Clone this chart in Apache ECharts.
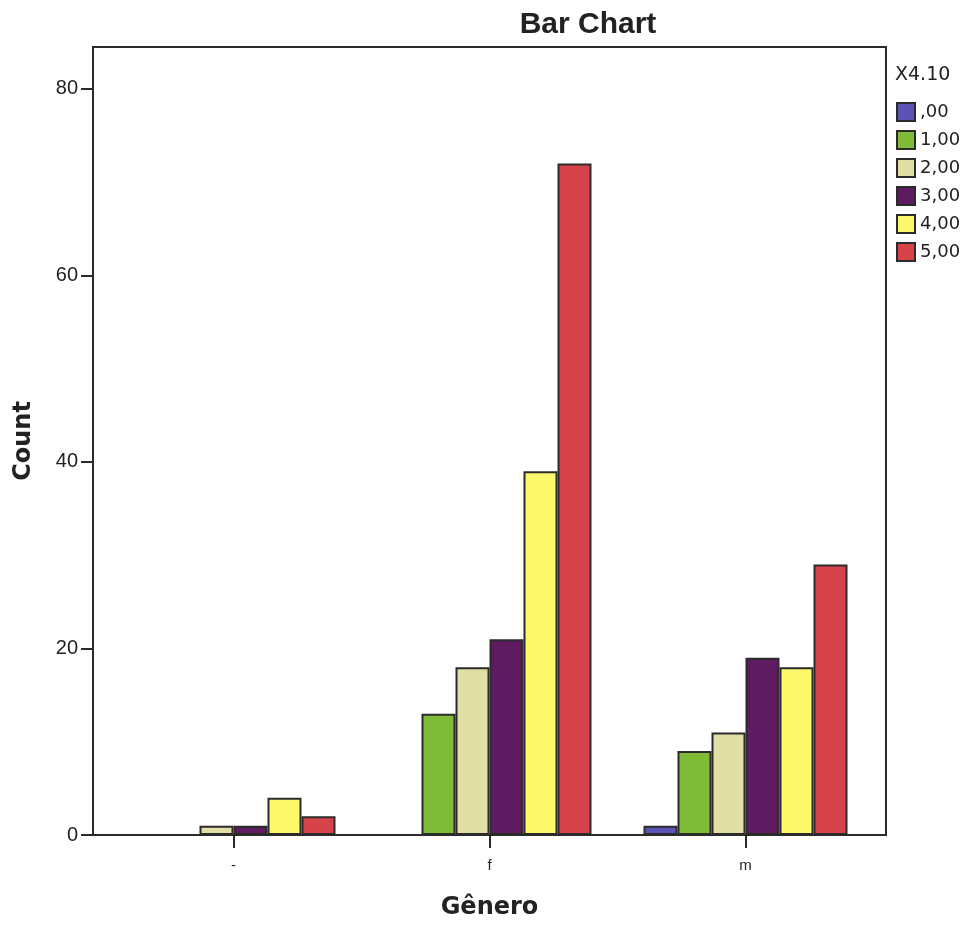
<!DOCTYPE html>
<html>
<head>
<meta charset="utf-8">
<script src="https://cdn.jsdelivr.net/npm/echarts@6/dist/echarts.min.js"></script>
<style>
  html, body { margin: 0; padding: 0; background: #fff; }
  #chart { width: 965px; height: 927px; }
</style>
</head>
<body>
<div id="chart"></div>
<script>
// Gênero categories and counts for each X4.10 response level
const categories = ['-', 'f', 'm'];
const seriesNames = [',00', '1,00', '2,00', '3,00', '4,00', '5,00'];
const values00 = [0, 0, 1];
const values10 = [0, 13, 9];
const values20 = [1, 18, 11];
const values30 = [1, 21, 19];
const values40 = [4, 39, 18];
const values50 = [2, 72, 29];
const yTicks = [0, 20, 40, 60, 80];

const seriesValues = [values00, values10, values20, values30, values40, values50];
const colors = ['#5a55b5', '#80bb38', '#e2dfa6', '#5e1b60', '#fbf86c', '#d7434a'];

const FONT = 'Liberation Sans, Arial, sans-serif';
const WIDE = 'DejaVu Sans, Verdana, sans-serif';
const INK = '#222';
const LINE = '#2b2b2b';
const Y_MAX = 84.5;

const chart = echarts.init(document.getElementById('chart'));

chart.setOption({
  animation: false,
  textStyle: { fontFamily: FONT },
  title: {
    text: 'Bar Chart',
    left: 583,
    top: 5,
    textAlign: 'center',
    textStyle: { fontFamily: FONT, fontSize: 30, fontWeight: 'bold', color: INK }
  },
  legend: {
    orient: 'vertical',
    left: 896,
    top: 102,
    padding: 0,
    itemWidth: 18,
    itemHeight: 18,
    itemGap: 8,
    icon: 'rect',
    data: seriesNames,
    textStyle: { fontFamily: WIDE, fontSize: 18, color: INK }
  },
  graphic: [{
    type: 'text',
    left: 895,
    top: 66,
    style: { text: 'X4.10', fontFamily: WIDE, fontSize: 19, fill: INK }
  }],
  grid: [
    { left: 93, top: 47, width: 793, height: 788, show: true, borderColor: LINE, borderWidth: 2, backgroundColor: '#fff' },
    { left: 105.5, top: 47, width: 768, height: 788 }
  ],
  xAxis: [
    { gridIndex: 0, type: 'value', show: false },
    {
      gridIndex: 1,
      type: 'category',
      data: categories,
      name: 'Gênero',
      nameLocation: 'middle',
      nameGap: 61,
      nameTextStyle: { fontFamily: WIDE, fontSize: 24, fontWeight: 'bold', color: INK },
      axisLine: { show: false },
      axisTick: { show: true, alignWithLabel: true, length: 13, lineStyle: { color: LINE, width: 2 } },
      axisLabel: { fontFamily: FONT, fontSize: 15, color: INK, margin: 23 }
    }
  ],
  yAxis: [
    {
      gridIndex: 0,
      type: 'value',
      min: 0,
      max: Y_MAX,
      interval: 20,
      name: 'Count',
      nameLocation: 'middle',
      nameGap: 57,
      nameRotate: 90,
      nameTextStyle: { fontFamily: WIDE, fontSize: 24, fontWeight: 'bold', color: INK },
      splitLine: { show: false },
      axisLine: { show: true, lineStyle: { color: LINE, width: 2 } },
      axisTick: { show: true, length: 12, customValues: yTicks, lineStyle: { color: LINE, width: 2 } },
      axisLabel: { fontFamily: FONT, fontSize: 20, color: INK, margin: 15, customValues: yTicks }
    },
    { gridIndex: 1, type: 'value', min: 0, max: Y_MAX, show: false }
  ],
  series: seriesNames.map((name, i) => ({
    name: name,
    type: 'bar',
    xAxisIndex: 1,
    yAxisIndex: 1,
    data: seriesValues[i],
    barWidth: 34,
    barGap: '0%',
    itemStyle: { color: colors[i], borderColor: LINE, borderWidth: 2 }
  }))
});
</script>
</body>
</html>
